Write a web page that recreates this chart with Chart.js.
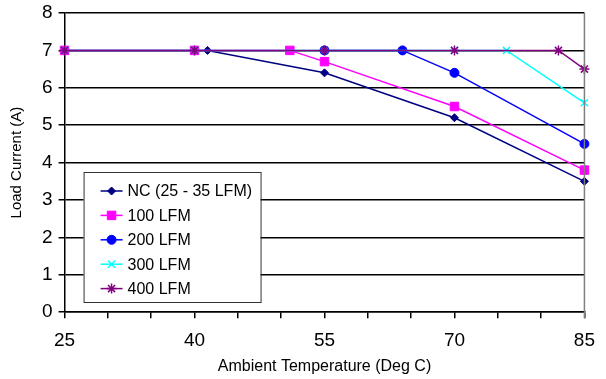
<!DOCTYPE html>
<html>
<head>
<meta charset="utf-8">
<script src="https://cdn.jsdelivr.net/npm/chart.js@4/dist/chart.umd.min.js"></script>
<style>
  html, body { margin: 0; padding: 0; background: #fff; }
  #wrap { width: 606px; height: 379px; }
</style>
</head>
<body>
<div id="wrap"><canvas id="chart" width="606" height="379"></canvas></div>
<script>
// readings
const seriesNames = ['NC (25 - 35 LFM)', '100 LFM', '200 LFM', '300 LFM', '400 LFM'];
const ncTemp = [25, 41.5, 55, 70, 85];
const ncCurrent = [7, 7, 6.4, 5.2, 3.5];
const lfm100Temp = [25, 40, 51, 55, 70, 85];
const lfm100Current = [7, 7, 7, 6.7, 5.5, 3.8];
const lfm200Temp = [55, 64, 70, 85];
const lfm200Current = [7, 7, 6.4, 4.5];
const lfm300Temp = [25, 40, 55, 70, 76, 85];
const lfm300Current = [7, 7, 7, 7, 7, 5.6];
const lfm400Temp = [25, 40, 55, 70, 82, 85];
const lfm400Current = [7, 7, 7, 7, 7, 6.5];
const xLabels = [25, 40, 55, 70, 85];

const colors = ['#000080', '#ff00ff', '#0000ff', '#00ffff', '#800080'];
const styles = ['rectRot', 'rect', 'circle', 'crossRot', 'star'];
const radii = [4, 6, 4.5, 5, 5];

function pts(xs, ys) {
  return xs.map((x, i) => ({ x: x, y: ys[i] }));
}

const allData = [
  pts(ncTemp, ncCurrent),
  pts(lfm100Temp, lfm100Current),
  pts(lfm200Temp, lfm200Current),
  pts(lfm300Temp, lfm300Current),
  pts(lfm400Temp, lfm400Current)
];

const datasets = allData.map((d, i) => ({
  label: seriesNames[i],
  data: d,
  borderColor: colors[i],
  backgroundColor: colors[i],
  pointBackgroundColor: colors[i],
  pointBorderColor: colors[i],
  pointStyle: styles[i],
  pointRadius: radii[i],
  pointBorderWidth: styles[i] === 'crossRot' || styles[i] === 'star' ? 1.5 : 1,
  borderWidth: 1.5,
  tension: 0,
  clip: false,
  order: 5 - i
}));

const FONT = '"Liberation Sans", Arial, sans-serif';

const legendBox = {
  id: 'legendBox',
  afterDraw: chart => {
    const ctx = chart.ctx;
    const a = chart.chartArea;
    const left = a.left + 19, top = a.top + 159, w = 177, h = 130;
    ctx.save();
    // right border of the plot
    ctx.strokeStyle = '#808080';
    ctx.lineWidth = 1.5;
    ctx.beginPath();
    ctx.moveTo(a.right, a.top);
    ctx.lineTo(a.right, a.bottom + 6);
    ctx.stroke();

    ctx.fillStyle = '#fff';
    ctx.fillRect(left, top, w, h);
    ctx.strokeStyle = '#333';
    ctx.lineWidth = 1;
    ctx.strokeRect(left + 0.5, top + 0.5, w, h);
    ctx.font = '16px ' + FONT;
    ctx.textBaseline = 'middle';
    chart.data.datasets.forEach((ds, i) => {
      const y = top + 19 + i * 24.4;
      ctx.strokeStyle = ds.borderColor;
      ctx.lineWidth = 1.5;
      ctx.beginPath();
      ctx.moveTo(left + 17, y);
      ctx.lineTo(left + 39, y);
      ctx.stroke();
      ctx.fillStyle = ds.backgroundColor;
      ctx.lineWidth = ds.pointBorderWidth;
      Chart.helpers.drawPoint(ctx, { pointStyle: ds.pointStyle, radius: ds.pointRadius, rotation: 0, borderWidth: ds.pointBorderWidth }, left + 28, y);
      ctx.fillStyle = '#000';
      ctx.fillText(ds.label, left + 44, y + 1);
    });
    ctx.restore();
  }
};

new Chart(document.getElementById('chart'), {
  type: 'line',
  plugins: [legendBox],
  data: { datasets: datasets },
  options: {
    responsive: false,
    animation: false,
    layout: { autoPadding: false, padding: { left: 8, right: 20, top: 13, bottom: 4 } },
    plugins: {
      legend: { display: false },
      tooltip: { enabled: false }
    },
    scales: {
      x: {
        type: 'linear',
        min: 25,
        max: 85,
        grid: {
          drawOnChartArea: false,
          drawTicks: true,
          tickLength: 6,
          color: '#000',
          lineWidth: 1.5
        },
        border: { color: '#000', width: 1.5 },
        ticks: {
          stepSize: 5,
          autoSkip: false,
          maxRotation: 0,
          color: '#000',
          padding: 11,
          font: { family: FONT, size: 19 },
          callback: v => xLabels.includes(v) ? String(v) : ''
        },
        title: {
          display: true,
          text: 'Ambient Temperature (Deg C)',
          color: '#000',
          padding: { top: -4, bottom: 0 },
          font: { family: FONT, size: 16, lineHeight: 1 }
        }
      },
      y: {
        min: 0,
        max: 8,
        grid: {
          color: '#000',
          lineWidth: 1.5,
          tickLength: 6
        },
        border: { color: '#000', width: 1.5 },
        ticks: {
          stepSize: 1,
          color: '#000',
          padding: 6,
          font: { family: FONT, size: 19, lineHeight: 0.6 }
        },
        title: {
          display: true,
          text: 'Load Current (A)',
          color: '#000',
          padding: { top: 0, bottom: 10 },
          font: { family: FONT, size: 15 }
        }
      }
    }
  }
});
</script>
</body>
</html>
